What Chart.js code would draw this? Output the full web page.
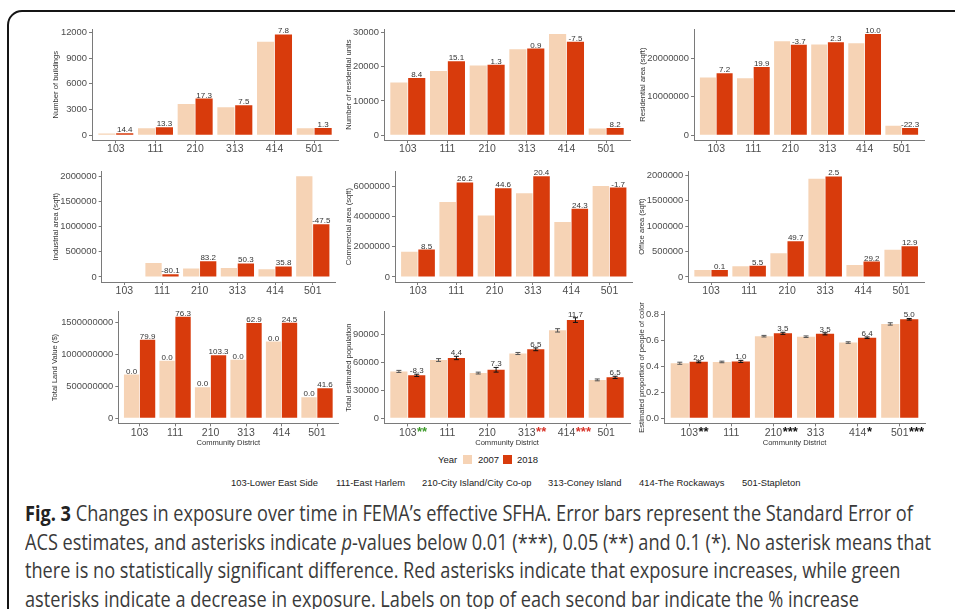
<!DOCTYPE html>
<html>
<head>
<meta charset="utf-8">
<script src="https://cdn.jsdelivr.net/npm/chart.js@4.4.1/dist/chart.umd.min.js"></script>
<style>
  body { margin: 0; width: 955px; height: 609px; overflow: hidden; background: #fff; position: relative;
         font-family: "Liberation Sans", Arial, sans-serif; }
  .frame { position: absolute; left: 7px; top: 10px; width: 1000px; height: 700px;
           border: 2.5px solid #151515; border-radius: 15px; }
  canvas { position: absolute; }
  .leg { position: absolute; font-size: 9.5px; color: #222; line-height: 11px; white-space: nowrap; }
  .sw { position: absolute; width: 9px; height: 9px; }
  .cd { position: absolute; font-size: 9.4px; color: #222; line-height: 11px; white-space: nowrap; top: 476.5px; }
  .caption { position: absolute; left: 25px; top: 499px; display: inline-block; transform-origin: left top;
             font-family: "Open Sans", sans-serif; font-size: 21px; line-height: 28.5px; color: #3a3a3a;
             white-space: nowrap; }
  .caption b { color: #222; }
</style>
</head>
<body>
<div class="frame"></div>

<span class="leg" style="left:438px;top:454px">Year</span>
<div class="sw" style="left:463px;top:455px;background:#F6D3B5"></div>
<span class="leg" style="left:478px;top:454px">2007</span>
<div class="sw" style="left:503px;top:455px;background:#D83B0C"></div>
<span class="leg" style="left:517px;top:454px">2018</span>

<span class="cd" style="left:231px">103-Lower East Side</span>
<span class="cd" style="left:336px">111-East Harlem</span>
<span class="cd" style="left:422px">210-City Island/City Co-op</span>
<span class="cd" style="left:548px">313-Coney Island</span>
<span class="cd" style="left:639px">414-The Rockaways</span>
<span class="cd" style="left:742px">501-Stapleton</span>

<div class="caption" id="caption">
<b>Fig. 3</b> Changes in exposure over time in FEMA’s effective SFHA. Error bars represent the Standard Error of<br>
ACS estimates, and asterisks indicate <i>p</i>-values below 0.01 (***), 0.05 (**) and 0.1 (*). No asterisk means that<br>
there is no statistically significant difference. Red asterisks indicate that exposure increases, while green<br>
asterisks indicate a decrease in exposure. Labels on top of each second bar indicate the % increase
</div>

<script>
// 🔹 Dados
const districts = ['103', '111', '210', '313', '414', '501'];

const buildings2007 = [200, 820, 3650, 3260, 10900, 820];
const buildings2018 = [229, 929, 4280, 3505, 11750, 831];
const buildingsPct = ['14.4', '13.3', '17.3', '7.5', '7.8', '1.3'];
const buildingsTicks = [0, 3000, 6000, 9000, 12000];

const units2007 = [15400, 18730, 20300, 25050, 29500, 1950];
const units2018 = [16690, 21560, 20560, 25280, 27290, 2110];
const unitsPct = ['8.4', '15.1', '1.3', '0.9', '-7.5', '8.2'];
const unitsTicks = [0, 10000, 20000, 30000];

const resArea2007 = [15000000, 14800000, 24400000, 23600000, 23900000, 2450000];
const resArea2018 = [16080000, 17750000, 23500000, 24140000, 26300000, 1900000];
const resAreaPct = ['7.2', '19.9', '-3.7', '2.3', '10.0', '-22.3'];
const resAreaTicks = [0, 10000000, 20000000];

const industrial2007 = [0, 280000, 170000, 180000, 155000, 2000000];
const industrial2018 = [0, 56000, 311000, 270000, 210000, 1050000];
const industrialPct = ['', '-80.1', '83.2', '50.3', '35.8', '-47.5'];
const industrialTicks = [0, 500000, 1000000, 1500000, 2000000];

const commercial2007 = [1680000, 4980000, 4080000, 5560000, 3650000, 6040000];
const commercial2018 = [1820000, 6280000, 5900000, 6690000, 4540000, 5940000];
const commercialPct = ['8.5', '26.2', '44.6', '20.4', '24.3', '-1.7'];
const commercialTicks = [0, 2000000, 4000000, 6000000];

const office2007 = [137000, 210000, 470000, 1935000, 235000, 535000];
const office2018 = [137000, 221000, 703000, 1983000, 304000, 604000];
const officePct = ['0.1', '5.5', '49.7', '2.5', '29.2', '12.9'];
const officeTicks = [0, 500000, 1000000, 1500000, 2000000];

const land2007 = [683000000, 900000000, 485000000, 915000000, 1200000000, 331000000];
const land2018 = [1229000000, 1587000000, 986000000, 1490000000, 1494000000, 469000000];
const land2007Pct = ['0.0', '0.0', '0.0', '0.0', '0.0', '0.0'];
const landPct = ['79.9', '76.3', '103.3', '62.9', '24.5', '41.6'];
const landTicks = [0, 500000000, 1000000000, 1500000000];

const pop2007 = [50300, 62500, 48500, 69500, 94300, 41200];
const pop2018 = [46100, 64700, 52040, 74000, 105300, 43900];
const popSe2007 = [1100, 1500, 1000, 1100, 1800, 1000];
const popSe2018 = [1200, 1800, 2500, 1500, 2500, 1200];
const popPct = ['-8.3', '4.4', '7.3', '6.5', '11.7', '6.5'];
const popStars = ['**', '', '', '**', '***', ''];
const popStarColors = ['#3f9b2c', '', '', '#d8352a', '#d8352a', ''];
const popTicks = [0, 30000, 60000, 90000];

const poc2007 = [0.423, 0.433, 0.631, 0.627, 0.582, 0.725];
const poc2018 = [0.434, 0.437, 0.653, 0.649, 0.619, 0.761];
const pocSe2007 = [0.008, 0.006, 0.006, 0.006, 0.006, 0.009];
const pocSe2018 = [0.007, 0.008, 0.008, 0.008, 0.006, 0.006];
const pocPct = ['2.6', '1.0', '3.5', '3.5', '6.4', '5.0'];
const pocStars = ['**', '', '***', '', '*', '***'];
const pocStarColors = ['#111', '', '#111', '', '#111', '#111'];
const pocTicks = [0, 0.2, 0.4, 0.6, 0.8];

// 🔹 Estilo
const COLOR_2007 = '#F6D3B5';
const COLOR_2018 = '#D83B0C';
const AXIS_GRAY = '#7a7a7a';
const FONT = '"Liberation Sans", Arial, sans-serif';

const rows = [
  { top: 29, bottom: 140.3, xAxisH: 18 },
  { top: 171.3, bottom: 282, xAxisH: 18 },
  { top: 311.7, bottom: 423.4, xAxisH: 24.2 }
];

const panels = [
  { row: 0, axisX: 92, right: 338, titleX: 55.5, yMax: 12390, title: 'Number of buildings',
    v2007: buildings2007, v2018: buildings2018, lab2018: buildingsPct, ticks: buildingsTicks },
  { row: 0, axisX: 384, right: 630, titleX: 348.7, yMax: 30975, title: 'Number of residential units',
    v2007: units2007, v2018: units2018, lab2018: unitsPct, ticks: unitsTicks },
  { row: 0, axisX: 694, right: 924, titleX: 642.5, yMax: 27600000, title: 'Residential area (sqft)',
    v2007: resArea2007, v2018: resArea2018, lab2018: resAreaPct, ticks: resAreaTicks },
  { row: 1, axisX: 101.7, right: 335.4, titleX: 56.3, yMax: 2100000, title: 'Industrial area (sqft)',
    v2007: industrial2007, v2018: industrial2018, lab2018: industrialPct, ticks: industrialTicks },
  { row: 1, axisX: 395, right: 632.5, titleX: 349.3, yMax: 7020000, title: 'Commercial area (sqft)',
    v2007: commercial2007, v2018: commercial2018, lab2018: commercialPct, ticks: commercialTicks },
  { row: 1, axisX: 688.3, right: 924, titleX: 641.7, yMax: 2084000, title: 'Office area (sqft)',
    v2007: office2007, v2018: office2018, lab2018: officePct, ticks: officeTicks },
  { row: 2, axisX: 118.3, right: 338.3, titleX: 55.3, yMax: 1666000000, title: 'Total Land Value ($)',
    v2007: land2007, v2018: land2018, lab2007: land2007Pct, lab2018: landPct, ticks: landTicks },
  { row: 2, axisX: 384, right: 630, titleX: 349.3, yMax: 114300, title: 'Total estimated population',
    v2007: pop2007, v2018: pop2018, se2007: popSe2007, se2018: popSe2018, lab2018: popPct,
    stars: popStars, starColors: popStarColors, ticks: popTicks },
  { row: 2, axisX: 664, right: 925, titleX: 641.7, yMax: 0.819, title: 'Estimated proportion of people of color',
    v2007: poc2007, v2018: poc2018, se2007: pocSe2007, se2018: pocSe2018, lab2018: pocPct,
    stars: pocStars, starColors: pocStarColors, ticks: pocTicks, decimals: 1 }
];

// 🔹 Barras de erro, rótulos de % e asteriscos
function extras(p) {
  return {
    id: 'extras',
    afterDatasetsDraw(chart) {
      const ctx = chart.ctx;
      const y = chart.scales.y;
      [0, 1].forEach(d => {
        const meta = chart.getDatasetMeta(d);
        const vals = d ? p.v2018 : p.v2007;
        const errs = d ? p.se2018 : p.se2007;
        const labs = d ? p.lab2018 : p.lab2007;
        meta.data.forEach((bar, i) => {
          const e = errs ? errs[i] : 0;
          if (errs) {
            const y1 = y.getPixelForValue(vals[i] - e);
            const y2 = y.getPixelForValue(vals[i] + e);
            ctx.save();
            ctx.strokeStyle = d ? '#111' : '#555';
            ctx.lineWidth = 1;
            ctx.beginPath();
            ctx.moveTo(bar.x, y1); ctx.lineTo(bar.x, y2);
            ctx.moveTo(bar.x - 2.5, y1); ctx.lineTo(bar.x + 2.5, y1);
            ctx.moveTo(bar.x - 2.5, y2); ctx.lineTo(bar.x + 2.5, y2);
            ctx.stroke();
            ctx.restore();
          }
          if (labs && labs[i]) {
            ctx.save();
            ctx.font = '8px ' + FONT;
            ctx.fillStyle = '#333';
            ctx.textAlign = 'center';
            ctx.textBaseline = 'alphabetic';
            ctx.fillText(labs[i], bar.x, y.getPixelForValue(vals[i] + e) - 1);
            ctx.restore();
          }
        });
      });
    },
    afterDraw(chart) {
      if (!p.stars) return;
      const ctx = chart.ctx;
      const x = chart.scales.x;
      const labelY = x.top + 3 + 6.3 + 3.7;
      ctx.save();
      p.stars.forEach((s, i) => {
        if (!s) return;
        ctx.font = '10.5px ' + FONT;
        const w = ctx.measureText(districts[i]).width;
        ctx.font = 'bold 13px ' + FONT;
        ctx.fillStyle = p.starColors[i];
        ctx.textAlign = 'left';
        ctx.textBaseline = 'alphabetic';
        ctx.fillText(s, x.getPixelForValue(i) + w / 2 + 0.5, labelY);
      });
      ctx.restore();
    }
  };
}

function drawPanel(p) {
  const row = rows[p.row];
  const left = Math.floor(p.titleX - 4.8);
  const top = Math.floor(row.top - 16);
  const width = Math.ceil(p.right + 4 - left);
  const height = Math.ceil(row.bottom + row.xAxisH + 4 - top);

  const canvas = document.createElement('canvas');
  canvas.width = width;
  canvas.height = height;
  canvas.style.left = left + 'px';
  canvas.style.top = top + 'px';
  document.body.appendChild(canvas);

  new Chart(canvas, {
    type: 'bar',
    data: {
      datasets: [
        { label: '2007', data: p.v2007.map((v, i) => ({ x: i, y: v })), backgroundColor: COLOR_2007,
          categoryPercentage: 0.9, barPercentage: 0.96 },
        { label: '2018', data: p.v2018.map((v, i) => ({ x: i, y: v })), backgroundColor: COLOR_2018,
          categoryPercentage: 0.9, barPercentage: 0.96 }
      ]
    },
    options: {
      responsive: false,
      animation: false,
      devicePixelRatio: 1,
      layout: {
        padding: {
          left: 0,
          top: row.top - top,
          right: width - (p.right - left),
          bottom: height - (row.bottom - top) - row.xAxisH
        }
      },
      plugins: { legend: { display: false }, tooltip: { enabled: false } },
      scales: {
        x: {
          type: 'linear',
          min: -0.6,
          max: 5.6,
          offset: false,
          afterBuildTicks: axis => { axis.ticks = districts.map((d, i) => ({ value: i })); },
          afterFit: s => { s.height = row.xAxisH; },
          grid: { display: true, offset: false, drawOnChartArea: false, drawTicks: true, tickLength: 3,
                  color: AXIS_GRAY },
          border: { display: true, color: AXIS_GRAY, width: 1 },
          ticks: { font: { size: 10.5, family: FONT }, color: '#4d4d4d', padding: 0, maxRotation: 0,
                   autoSkip: false, callback: v => districts[Math.round(v)] },
          title: { display: p.row === 2, text: 'Community District', color: '#333',
                   font: { size: 7.6, family: FONT }, padding: { top: 0, bottom: 0 } }
        },
        y: {
          min: -p.yMax / 21,
          max: p.yMax,
          afterBuildTicks: axis => { axis.ticks = p.ticks.map(v => ({ value: v })); },
          afterFit: s => { s.width = p.axisX - left; },
          grid: { display: true, drawOnChartArea: false, drawTicks: true, tickLength: 3, color: AXIS_GRAY },
          border: { display: true, color: AXIS_GRAY, width: 1 },
          ticks: { font: { size: 9.4, family: FONT }, color: '#4d4d4d', padding: 2, autoSkip: false,
                   callback: v => p.decimals ? v.toFixed(p.decimals) : String(v) },
          title: { display: true, text: p.title, color: '#333', font: { size: 7.6, family: FONT },
                   padding: { top: p.titleX - 4.56 - left, bottom: 0 } }
        }
      }
    },
    plugins: [extras(p)]
  });
}

panels.forEach(drawPanel);

// 🔹 Ajusta a legenda da figura à largura do original
const caption = document.getElementById('caption');
caption.style.transform = 'scaleX(' + (906 / caption.getBoundingClientRect().width) + ')';
</script>
</body>
</html>
